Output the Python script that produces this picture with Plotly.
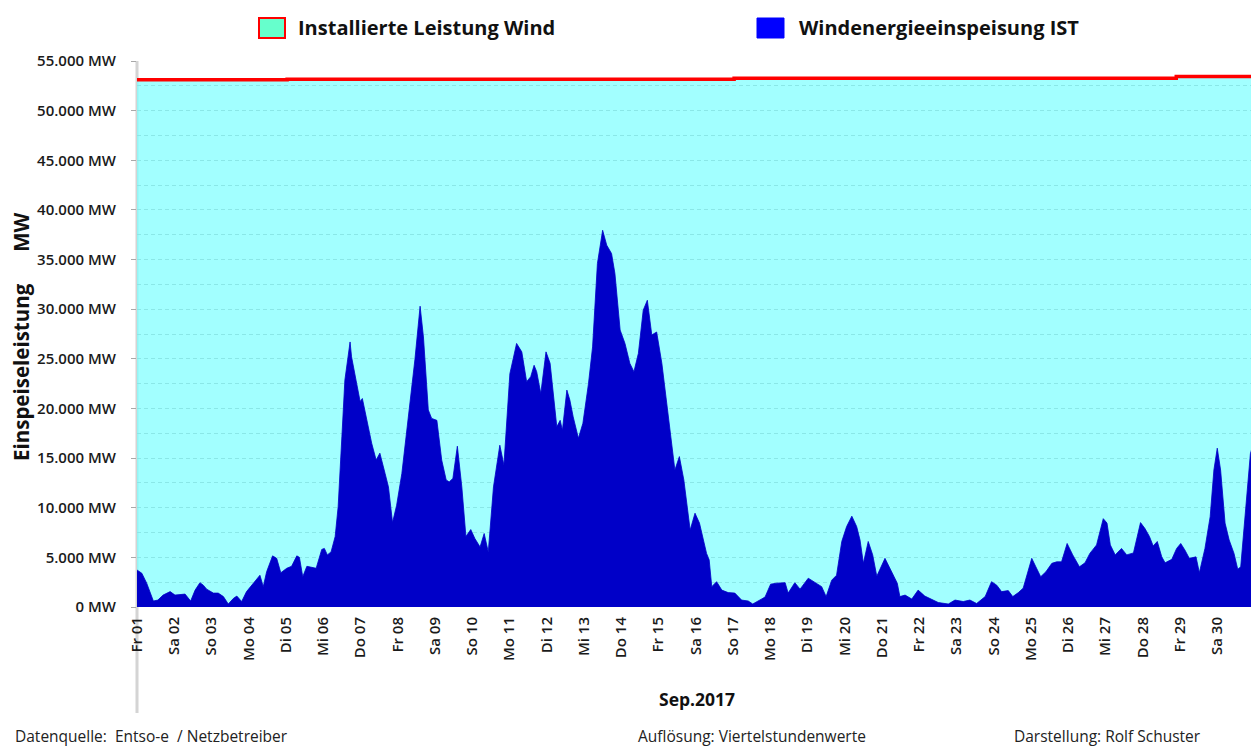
import plotly.graph_objects as go

# ---------------- data ----------------
# time in days since 01.09.2017 00:00, value in MW
wind_t = [0.00, 0.01, 0.13, 0.26, 0.44, 0.56, 0.70, 0.89, 1.02, 1.29, 1.44, 1.56, 1.69, 1.78, 1.87,
          2.05, 2.18, 2.32, 2.45, 2.59, 2.68, 2.81, 2.94, 3.12, 3.30, 3.39, 3.48, 3.64, 3.75, 3.86,
          4.02, 4.15, 4.29, 4.36, 4.45, 4.56, 4.69, 4.81, 4.96, 5.03, 5.11, 5.21, 5.32, 5.40, 5.50,
          5.58, 5.72, 5.76, 5.88, 5.99, 6.05, 6.17, 6.30, 6.42, 6.52, 6.66, 6.75, 6.86, 6.97, 7.11,
          7.22, 7.37, 7.46, 7.60, 7.69, 7.82, 7.91, 8.05, 8.18, 8.30, 8.38, 8.48, 8.60, 8.72, 8.83,
          8.96, 9.07, 9.21, 9.32, 9.43, 9.57, 9.74, 9.85, 10.01, 10.19, 10.33, 10.46, 10.57, 10.66,
          10.73, 10.84, 10.98, 11.09, 11.27, 11.36, 11.42, 11.54, 11.62, 11.71, 11.85, 11.97, 12.12,
          12.23, 12.36, 12.50, 12.61, 12.74, 12.83, 12.97, 13.10, 13.23, 13.34, 13.46, 13.59, 13.70,
          13.82, 13.95, 14.09, 14.22, 14.33, 14.44, 14.56, 14.68, 14.85, 14.98, 15.10, 15.29, 15.36,
          15.43, 15.56, 15.70, 15.87, 16.05, 16.23, 16.41, 16.53, 16.68, 16.86, 17.01, 17.17, 17.40,
          17.48, 17.66, 17.80, 18.02, 18.16, 18.38, 18.50, 18.65, 18.78, 18.92, 19.05, 19.19, 19.32,
          19.41, 19.50, 19.63, 19.75, 19.86, 20.08, 20.26, 20.41, 20.48, 20.62, 20.80, 20.97, 21.15,
          21.33, 21.51, 21.78, 21.96, 22.18, 22.36, 22.54, 22.77, 22.94, 23.08, 23.21, 23.39, 23.51,
          23.66, 23.79, 23.90, 24.02, 24.13, 24.26, 24.40, 24.56, 24.69, 24.82, 24.97, 25.12, 25.30,
          25.45, 25.58, 25.76, 25.94, 26.04, 26.13, 26.26, 26.43, 26.57, 26.75, 26.88, 26.94, 27.06,
          27.18, 27.28, 27.39, 27.51, 27.60, 27.78, 27.91, 28.02, 28.13, 28.25, 28.43, 28.52, 28.67,
          28.81, 28.91, 29.00, 29.09, 29.21, 29.32, 29.45, 29.55, 29.63, 29.74, 29.83, 29.89, 29.95]
wind_mw = [3700, 3700, 3400, 2400, 600, 700, 1200, 1550, 1200, 1300, 600, 1700, 2450, 2200, 1800,
           1400, 1400, 1050, 300, 870, 1100, 550, 1550, 2400, 3200, 2050, 3550, 5150, 4900, 3450,
           3900, 4100, 5150, 5000, 3050, 4100, 4000, 3900, 5800, 5900, 5250, 5550, 7100, 10100, 17150,
           22850, 26700, 25200, 22850, 20700, 21000, 18800, 16500, 14800, 15500, 13450, 12100, 8500, 10250, 13450,
           17150, 21800, 24900, 30300, 27200, 19850, 19000, 18800, 14800, 12800, 12600, 12950, 16200, 12100, 7100,
           7800, 6900, 6050, 7400, 5550, 12100, 16300, 14300, 23500, 26550, 25700, 22700, 23200, 24350,
           23700, 21500, 25700, 24550, 18150, 18800, 17800, 21850, 20850, 19150, 17000, 18500, 22500,
           26200, 34600, 37950, 36450, 35600, 33600, 27900, 26550, 24550, 23700, 25550, 29900, 30900,
           27400, 27700, 24550, 20500, 17150, 13800, 15150, 12800, 7750, 9450, 8450, 5400, 4750,
           2050, 2550, 1700, 1450, 1400, 700, 600, 300, 650, 1000, 2300, 2400, 2450,
           1400, 2450, 1800, 2900, 2550, 2050, 1050, 2700, 3200, 6600, 8100, 9150, 8100,
           6750, 4400, 6600, 5250, 3100, 4900, 3550, 2400, 1050, 1200, 800, 1700, 1100,
           800, 450, 300, 700, 550, 700, 350, 1050, 2550, 2200, 1550, 1650, 1050,
           1450, 1900, 3400, 4900, 4050, 3050, 3550, 4400, 4550, 4550, 6400, 5250, 4050,
           4450, 5400, 6250, 8900, 8450, 6250, 5250, 5900, 5250, 5450, 7400, 8500, 7900,
           7100, 6150, 6600, 5050, 4450, 4800, 5900, 6400, 5750, 4900, 5050, 3450, 5900,
           9100, 13800, 16000, 13800, 8450, 6750, 5400, 3800, 4050, 8750, 13450, 15450, 16200]

cap_t = [0.0, 4.03, 16.03, 27.9, 30.0]
cap_mw = [53100, 53150, 53250, 53450, 53450]

day_ticks = list(range(30))
day_labels = ["Fr 01", "Sa 02", "So 03", "Mo 04", "Di 05", "Mi 06", "Do 07", "Fr 08", "Sa 09", "So 10",
              "Mo 11", "Di 12", "Mi 13", "Do 14", "Fr 15", "Sa 16", "So 17", "Mo 18", "Di 19", "Mi 20",
              "Do 21", "Fr 22", "Sa 23", "So 24", "Mo 25", "Di 26", "Mi 27", "Do 28", "Fr 29", "Sa 30"]

y_ticks = [0, 5000, 10000, 15000, 20000, 25000, 30000, 35000, 40000, 45000, 50000, 55000]
y_labels = ["0 MW", "5.000 MW", "10.000 MW", "15.000 MW", "20.000 MW", "25.000 MW", "30.000 MW",
            "35.000 MW", "40.000 MW", "45.000 MW", "50.000 MW", "55.000 MW"]
y_minor = [2500, 7500, 12500, 17500, 22500, 27500, 32500, 37500, 42500, 47500, 52500]

name_cap = "Installierte Leistung Wind"
name_wind = "Windenergieeinspeisung IST"
y_title = "Einspeiseleistung      MW"
x_title = "Sep.2017"
footer = ["Datenquelle:  Entso-e  / Netzbetreiber", "Auflösung: Viertelstundenwerte",
          "Darstellung: Rolf Schuster"]

# ---------------- layout geometry ----------------
FONT = "Open Sans"
W, H = 1251, 749
PL, PR, PT, PB = 137, 1251, 61, 607   # plot area in pixels
L, T, R, B = PL, PT, W - PR, H - PB
PW, PH = PR - PL, PB - PT


def px(xp):
    return (xp - PL) / PW


def py(yp):
    return (PB - yp) / PH


fig = go.Figure()

# installed capacity: cyan area with red top line
fig.add_trace(go.Scatter(
    x=cap_t, y=cap_mw, mode="lines", name=name_cap,
    line=dict(color="#FF0000", width=3.5, shape="hv"),
    fill="tozeroy", fillcolor="rgba(126,255,255,0.72)", showlegend=False))

# wind feed-in: dark blue area
fig.add_trace(go.Scatter(
    x=wind_t, y=wind_mw, mode="lines", name=name_wind, line=dict(color="#0000C8", width=0.8),
    fill="tozeroy", fillcolor="#0000C8", showlegend=False))

fig.update_layout(
    width=W, height=H,
    margin=dict(l=L, r=R, t=T, b=B, pad=0),
    paper_bgcolor="white", plot_bgcolor="white",
    font=dict(family=FONT, color="#222222"),
    showlegend=False,
    xaxis=dict(range=[0, (PR - PL) / 37.25], tickmode="array", tickvals=day_ticks, ticktext=day_labels,
               tickangle=-90, ticks="", ticklabelstandoff=6, showgrid=False, zeroline=False,
               showline=False,
               tickfont=dict(family=FONT, size=15, color="#1a1a1a", weight=600)),
    yaxis=dict(range=[0, 55000], tickmode="array", tickvals=y_ticks, ticktext=y_labels,
               ticks="outside", ticklen=5, tickcolor="#A8A8A8", ticklabelstandoff=12,
               showline=False,
               showgrid=True, gridcolor="#A8A8A8", gridwidth=1, griddash="4px,3px",
               minor=dict(tickvals=y_minor, showgrid=True, ticks="",
                          gridcolor="#A8A8A8", gridwidth=1, griddash="4px,3px"),
               zeroline=False,
               tickfont=dict(family=FONT, size=15, color="#1a1a1a", weight=600)),
)

# grey vertical axis line, continuing below the plot area
fig.add_shape(type="line", xref="paper", yref="paper", x0=0, x1=0, y0=py(713), y1=1,
              line=dict(color="#D4D4D4", width=3), layer="below")

# legend (drawn swatches + labels)
fig.add_shape(type="rect", xref="paper", yref="paper", x0=px(259), x1=px(285), y0=py(38), y1=py(18),
              fillcolor="#66FFCC", line=dict(color="#FF0000", width=2))
fig.add_shape(type="rect", xref="paper", yref="paper", x0=px(757), x1=px(784), y0=py(38), y1=py(18),
              fillcolor="#0000FF", line=dict(color="#0000FF", width=1))
for txt, xp in [(name_cap, 296), (name_wind, 797)]:
    fig.add_annotation(text=txt, xref="paper", yref="paper", x=px(xp), y=py(28),
                       xanchor="left", yanchor="middle", showarrow=False,
                       font=dict(family=FONT, size=20, color="#111111", weight="bold"))

# axis titles
fig.add_annotation(text=y_title, xref="paper", yref="paper", x=px(21), y=py(337),
                   xanchor="center", yanchor="middle", textangle=-90, showarrow=False,
                   font=dict(family=FONT, size=20.5, color="#111111", weight="bold"))
fig.add_annotation(text=x_title, xref="paper", yref="paper", x=px(697), y=py(699),
                   xanchor="center", yanchor="middle", showarrow=False,
                   font=dict(family=FONT, size=17.5, color="#111111", weight="bold"))

# footer notes
for txt, xp in zip(footer, [13, 636, 1012]):
    fig.add_annotation(text=txt, xref="paper", yref="paper", x=px(xp), y=py(736),
                       xanchor="left", yanchor="middle", showarrow=False,
                       font=dict(family=FONT, size=15.5, color="#222222", weight=500))

# the page body normally adds an 8px margin around the figure; remove it
fig.write_html("out.html", config={"displayModeBar": False},
               post_script="document.body.style.margin='0';document.body.style.overflow='hidden';")
